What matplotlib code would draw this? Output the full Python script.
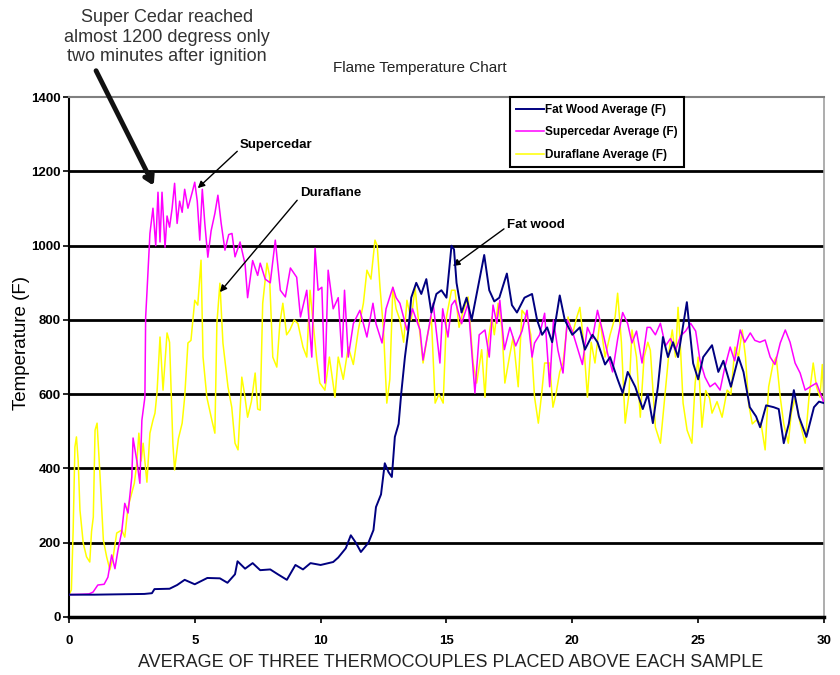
import matplotlib
matplotlib.use("Agg")
import matplotlib.pyplot as plt

# values (minutes, deg F)
fat_t = [0.0, 1.0, 2.0, 3.0, 3.3, 3.4, 4.0, 4.3, 4.6, 5.0, 5.5, 6.0, 6.3, 6.6, 6.7, 7.0, 7.3, 7.6,
         8.0, 8.3, 8.66, 9.0, 9.3, 9.6, 10.0, 10.5, 10.7, 11.0, 11.2, 11.4, 11.6, 11.9, 12.1, 12.2,
         12.4, 12.55, 12.7, 12.83, 12.95, 13.1, 13.2, 13.35, 13.5, 13.6, 13.8, 14.0, 14.2, 14.4,
         14.6, 14.8, 15.0, 15.1, 15.2, 15.3, 15.4, 15.6, 15.8, 16.0, 16.2, 16.5, 16.7, 16.9, 17.1,
         17.4, 17.6, 17.8, 18.1, 18.4, 18.6, 18.8, 19.0, 19.2, 19.5, 19.7, 20.0, 20.3, 20.5, 20.8,
         21.0, 21.3, 21.5, 21.8, 22.0, 22.2, 22.5, 22.8, 23.0, 23.2, 23.4, 23.6, 23.8, 24.0, 24.2,
         24.55, 24.8, 25.0, 25.2, 25.55, 25.8, 26.0, 26.3, 26.6, 26.8, 27.05, 27.3, 27.46, 27.7,
         28.0, 28.2, 28.4, 28.6, 28.8, 29.0, 29.3, 29.6, 29.8, 30.0]
fat_v = [60, 60, 61, 62, 64, 75, 76, 86, 100, 88, 105, 104, 92, 115, 150, 130, 145, 126,
         128, 115, 100, 140, 128, 145, 140, 148, 160, 185, 220, 200, 175, 200, 234, 296,
         330, 414, 390, 377, 485, 520, 600, 700, 780, 860, 900, 870, 910, 820,
         870, 880, 860, 930, 1000, 990, 900, 820, 860, 800, 870, 975, 880, 850, 860,
         925, 840, 820, 860, 870, 800, 760, 780, 740, 866, 800, 760, 780, 720, 760,
         740, 680, 700, 640, 603, 660, 620, 560, 600, 522, 620, 754, 700, 740, 700,
         848, 683, 640, 700, 732, 660, 690, 620, 700, 660, 565, 540, 511, 570,
         565, 560, 468, 520, 611, 540, 485, 565, 580, 576]

cedar_t = [0.0, 0.5, 0.8, 0.96, 1.15, 1.4, 1.55, 1.7, 1.83, 1.95, 2.1, 2.22, 2.35, 2.5, 2.55, 2.7,
           2.82, 2.9, 3.02, 3.05, 3.1, 3.22, 3.34, 3.45, 3.54, 3.62, 3.7, 3.82, 3.9, 4.0, 4.1, 4.2,
           4.3, 4.4, 4.5, 4.6, 4.73, 4.9, 5.0, 5.1, 5.2, 5.3, 5.4, 5.52, 5.65, 5.8, 5.92, 6.05, 6.2,
           6.35, 6.48, 6.6, 6.8, 7.0, 7.1, 7.3, 7.5, 7.6, 7.8, 8.0, 8.2, 8.4, 8.6, 8.8, 9.05, 9.2,
           9.45, 9.65, 9.78, 9.9, 10.05, 10.17, 10.3, 10.5, 10.7, 10.85, 10.95, 11.1, 11.3, 11.56,
           11.84, 12.08, 12.2, 12.44, 12.6, 12.87, 13.0, 13.15, 13.43, 13.65, 13.95, 14.07, 14.25,
           14.47, 14.74, 14.85, 15.06, 15.2, 15.34, 15.6, 15.86, 16.13, 16.3, 16.53, 16.7, 16.85,
           17.0, 17.12, 17.3, 17.52, 17.75, 18.0, 18.2, 18.4, 18.5, 18.7, 18.9, 19.1, 19.25, 19.43,
           19.63, 19.8, 20.0, 20.2, 20.4, 20.6, 20.8, 21.0, 21.2, 21.4, 21.6, 21.8, 22.0, 22.2,
           22.37, 22.55, 22.77, 22.97, 23.1, 23.3, 23.5, 23.7, 23.9, 24.1, 24.3, 24.5, 24.7, 24.9,
           25.07, 25.27, 25.47, 25.67, 25.87, 26.05, 26.27, 26.45, 26.67, 26.85, 27.07, 27.25,
           27.45, 27.66, 27.86, 28.05, 28.26, 28.46, 28.65, 28.85, 29.05, 29.25, 29.45, 29.7, 30.0]
cedar_v = [60, 61, 62, 67, 86, 88, 107, 167, 130, 180, 230, 306, 280, 377, 482, 420,
           360, 530, 592, 808, 872, 1033, 1101, 1000, 1144, 1010, 1144, 996, 1080, 1050, 1100, 1168,
           1060, 1120, 1090, 1152, 1101, 1144, 1171, 1120, 1015, 1152, 1060, 969, 1040, 1087, 1136, 1060, 988,
           1030, 1033, 970, 1010, 950, 860, 960, 920, 953, 910, 900, 1015, 880, 862, 940, 915, 808,
           880, 700, 993, 880, 888, 630, 934, 830, 860, 700, 880, 700, 790, 826,
           754, 845, 790, 738, 830, 888, 860, 845, 773, 830, 773, 692, 760,
           845, 684, 830, 754, 840, 853, 790, 845, 603, 760, 773, 700, 840,
           791, 853, 720, 780, 730, 770, 826, 700, 738, 760, 818, 620, 800, 718,
           657, 800, 770, 725, 680, 780, 750, 826, 770, 710, 660, 748, 820, 790,
           738, 770, 684, 780, 780, 760, 791, 730, 750, 718, 757, 770, 791, 770,
           692, 646, 620, 630, 611, 670, 727, 690, 773, 740, 765, 745,
           740, 746, 700, 680, 738, 773, 740, 684, 657, 611, 620, 630, 576]

dura_t = [0.0, 0.1, 0.17, 0.24, 0.3, 0.37, 0.44, 0.57, 0.7, 0.83, 0.9, 0.97, 1.04, 1.12, 1.24, 1.37,
          1.5, 1.63, 1.76, 1.9, 2.1, 2.22, 2.35, 2.5, 2.6, 2.7, 2.78, 2.87, 2.95, 3.1, 3.22, 3.34,
          3.42, 3.5, 3.62, 3.74, 3.9, 4.0, 4.13, 4.2, 4.35, 4.5, 4.6, 4.73, 4.85, 5.0, 5.12, 5.25,
          5.33, 5.48, 5.68, 5.8, 5.88, 6.0, 6.12, 6.32, 6.47, 6.6, 6.72, 6.87, 6.98, 7.1, 7.25, 7.4,
          7.5, 7.6, 7.7, 7.87, 7.97, 8.1, 8.26, 8.38, 8.5, 8.65, 8.78, 8.95, 9.1, 9.3, 9.45, 9.58,
          9.72, 9.85, 9.97, 10.17, 10.35, 10.57, 10.7, 10.9, 11.1, 11.3, 11.5, 11.7, 11.84, 12.0,
          12.16, 12.25, 12.36, 12.5, 12.63, 12.75, 12.87, 13.0, 13.15, 13.3, 13.43, 13.6, 13.75,
          13.95, 14.07, 14.25, 14.4, 14.55, 14.7, 14.87, 15.0, 15.2, 15.34, 15.5, 15.65, 15.86,
          16.06, 16.2, 16.4, 16.53, 16.65, 16.8, 16.9, 17.05, 17.2, 17.32, 17.5, 17.65, 17.85,
          18.0, 18.2, 18.35, 18.5, 18.65, 18.78, 18.9, 19.1, 19.23, 19.35, 19.5, 19.63, 19.83,
          20.0, 20.18, 20.3, 20.45, 20.6, 20.75, 20.9, 21.1, 21.3, 21.5, 21.7, 21.8, 21.95, 22.1,
          22.25, 22.37, 22.55, 22.7, 22.85, 23.0, 23.1, 23.3, 23.5, 23.7, 23.85, 23.97, 24.1, 24.2,
          24.3, 24.4, 24.56, 24.75, 24.88, 25.0, 25.15, 25.3, 25.45, 25.55, 25.75, 25.95, 26.15,
          26.3, 26.46, 26.6, 26.75, 26.88, 27.0, 27.15, 27.3, 27.5, 27.66, 27.8, 27.98, 28.1,
          28.26, 28.4, 28.58, 28.7, 28.85, 29.05, 29.25, 29.4, 29.57, 29.7, 29.84, 29.93, 30.0]
dura_v = [59, 73, 234, 458, 485, 420, 288, 199, 162, 148, 230, 269, 503, 522, 377, 207,
          162, 127, 162, 226, 234, 215, 296, 334, 360, 414, 495, 420, 468, 363, 495, 530,
          549, 603, 754, 611, 765, 740, 468, 396, 480, 522, 592, 738, 745, 853, 840, 961,
          700, 592, 530, 495, 791, 899, 738, 620, 565, 468, 450, 646, 600, 538, 580, 657,
          560, 557, 845, 953, 920, 700, 673, 790, 845, 760, 773, 800, 790, 727, 700, 880,
          780, 692, 630, 611, 700, 592, 700, 640, 727, 680, 773, 845, 934, 910,
          1015, 1000, 888, 773, 576, 640, 888, 830, 800, 740, 853, 800, 888,
          760, 684, 760, 808, 576, 600, 576, 808, 880, 880, 780, 820, 862,
          684, 630, 720, 592, 740, 808, 760, 845, 780, 630, 700, 754, 620,
          826, 808, 760, 592, 522, 600, 684, 684, 565, 600, 660, 684, 808,
          760, 808, 834, 740, 592, 740, 684, 800, 700, 760, 808, 872, 740, 522,
          600, 773, 700, 538, 700, 740, 718, 511, 468, 611, 720, 773, 700, 834,
          720, 576, 503, 468, 630, 700, 511, 610, 590, 549, 580, 538, 611,
          600, 727, 700, 773, 700, 576, 520, 530, 520, 450, 620, 684, 700,
          592, 520, 468, 550, 590, 522, 468, 590, 684, 620, 592, 680, 576]

series_names = ["Fat Wood Average (F)", "Supercedar Average (F)", "Duraflane Average (F)"]
x_ticks = [0, 5, 10, 15, 20, 25, 30]
y_ticks = [0, 200, 400, 600, 800, 1000, 1200, 1400]

plt.rcParams["font.family"] = ["Liberation Sans", "DejaVu Sans"]

fig = plt.figure(figsize=(8.4, 6.75), dpi=100)
ax = fig.add_axes([0.082, 0.086, 0.899, 0.770])

for yv in y_ticks[1:-1]:
    ax.axhline(yv, color="black", lw=2, zorder=1)

ax.plot(fat_t, fat_v, color="#000080", lw=1.4, label=series_names[0], zorder=4)
ax.plot(cedar_t, cedar_v, color="#FF00FF", lw=1.1, label=series_names[1], zorder=3)
ax.plot(dura_t, dura_v, color="#FFFF00", lw=1.1, label=series_names[2], zorder=2)

ax.set_xlim(0, 30)
ax.set_ylim(0, 1400)
ax.set_xticks(x_ticks)
ax.set_yticks(y_ticks)
ax.tick_params(direction="out", length=4, width=1.2, labelsize=9.5)
for lab in ax.get_xticklabels() + ax.get_yticklabels():
    lab.set_fontweight("bold")
ax.tick_params(axis="x", pad=9)
ax.tick_params(axis="y", pad=2)

ax.spines["left"].set_color("black")
ax.spines["left"].set_linewidth(1.5)
ax.spines["bottom"].set_color("black")
ax.spines["bottom"].set_linewidth(2.5)
ax.spines["top"].set_color("#808080")
ax.spines["top"].set_linewidth(1.5)
ax.spines["right"].set_color("#a0a0a0")
ax.spines["right"].set_linewidth(1.2)

leg = ax.legend(loc="upper left", bbox_to_anchor=(0.584, 1.0), fancybox=False,
                edgecolor="black", framealpha=1, borderpad=0.55, labelspacing=0.9,
                handlelength=2.3, handletextpad=0.1, borderaxespad=0,
                prop={"weight": "bold", "size": 8.5})
leg.get_frame().set_linewidth(1.5)
leg.set_zorder(10)

fig.text(0.5, 0.899, "Flame Temperature Chart", ha="center", va="center", fontsize=11,
         color="#222222")
fig.text(0.026, 0.492, "Temperature (F)", rotation=90, ha="center", va="center", fontsize=13.5)
fig.text(0.537, 0.018, "AVERAGE OF THREE THERMOCOUPLES PLACED ABOVE EACH SAMPLE", ha="center",
         va="center", fontsize=13, color="#222222")
fig.text(0.199, 0.945, "Super Cedar reached\nalmost 1200 degress only\ntwo minutes after ignition",
         ha="center", va="center", fontsize=13, linespacing=1.2, color="#333333")

ax.annotate("", xy=(3.42, 1155), xytext=(1.03, 1478), annotation_clip=False,
            arrowprops=dict(arrowstyle="->,head_length=0.5,head_width=0.3", lw=3.5, color="#111111"))
ax.annotate("Supercedar", xy=(5.12, 1155), xytext=(6.8, 1271), fontsize=9.5, fontweight="bold",
            va="center",
            arrowprops=dict(arrowstyle="-|>", lw=1, color="black", mutation_scale=10,
                            shrinkA=0, shrinkB=0, relpos=(0, 0.2)))
ax.annotate("Duraflane", xy=(6.0, 875), xytext=(9.18, 1141), fontsize=9.5, fontweight="bold",
            va="center",
            arrowprops=dict(arrowstyle="-|>", lw=1, color="black", mutation_scale=10,
                            shrinkA=0, shrinkB=0, relpos=(0, 0.2)))
ax.annotate("Fat wood", xy=(15.26, 945), xytext=(17.4, 1055), fontsize=9.5, fontweight="bold",
            va="center",
            arrowprops=dict(arrowstyle="-|>", lw=1, color="black", mutation_scale=10,
                            shrinkA=0, shrinkB=0, relpos=(-0.05, 0.2)))

fig.savefig("out.png", dpi=100)
